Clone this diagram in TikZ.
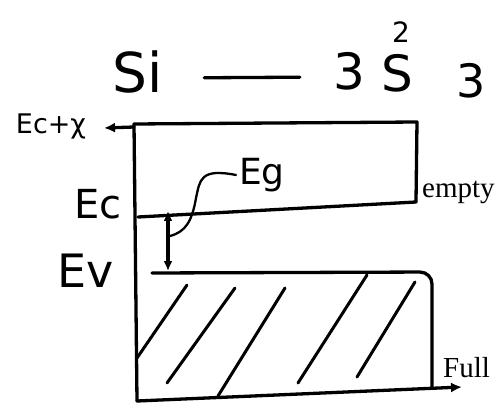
\documentclass[tikz,border=0pt]{standalone}
\usepackage{fontspec}
\newfontfamily\handfont{DejaVu Sans}
\newfontfamily\typedfont{Liberation Serif}
\usetikzlibrary{arrows.meta, positioning}

\begin{document}
\begin{tikzpicture}[
			x=1pt, y=-1pt,
			hand/.style={line width=3.3pt, line cap=round, line join=round},
			hatch/.style={line width=3pt, line cap=round},
			arrow/.style={hand, -{Latex[length=11pt, width=10pt]}},
			twoway/.style={hand, {Latex[length=10pt, width=9pt]}-{Latex[length=10pt, width=9pt]}},
			handtext/.style={inner sep=0pt, font=\handfont\fontsize{#1}{#1}\selectfont},
			typed/.style={inner sep=0pt, anchor=base west, font=\typedfont\fontsize{29}{29}\selectfont}
			]
			\useasboundingbox (0,0) rectangle (499,404);
			
			% title
			\node[handtext=55] (si) at (138,72) {Si};
			\node[handtext=50] (three) at (349,71) {3};
			\node[handtext=50] (orbital) at (397,73) {S};
			\node[handtext=28] (power) at (401,32) {2};
			\node[handtext=46] (valence) at (471,81) {3};
			\draw[hand, shorten <=41pt, shorten >=33pt] ([yshift=-6pt]si.east) -- ([yshift=-6pt]three.west);
			
			% band corners
			\coordinate (axistop) at (134,124);
			\coordinate (origin) at (137,401);
			\coordinate (cbtopright) at (417,122);
			\coordinate (cbright) at (416,202);
			\coordinate (ecleft) at (138,217);
			\coordinate (evleft) at (152,273);
			\coordinate (vbcorner) at (432,272);
			\coordinate (vbright) at (432,387);
			\coordinate (fullend) at (462,387);
			\coordinate (vacuum) at (104,128);
			
			% labels
			\node[handtext=27] (ecchi) at (51,126) {Ec+χ};
			\node[handtext=40] (ec) at (98,204) {Ec};
			\node[handtext=46] (ev) at (86,271) {Ev};
			\node[handtext=36] (eg) at (262,175) {Eg};
			\node[typed] (empty) at (422,197) {empty};
			\node[typed] (full) at (443,377) {Full};
			
			% conduction band
			\draw[hand] (axistop) -- (cbtopright) -- (cbright);
			\draw[hand] (ecleft) -- (cbright);
			\draw[arrow] ([yshift=-3pt]axistop) -- (vacuum);
			
			% valence band
			\draw[hand] (axistop) -- (origin);
			\draw[hand, rounded corners=12pt] (evleft) -- (vbcorner) -- (vbright);
			\draw[arrow] (origin) -- (fullend);
			
			% gap
			\draw[twoway] (168,211) -- (168,271);
			\draw[hand, line width=2.3pt] ([xshift=-3pt]eg.west) .. controls (200,168) and (200,180) .. (196,198)
				.. controls (192,222) and (185,232) .. (170,236);
			
			% filled states
			\draw[hatch] (187,285) -- (137,358);
			\draw[hatch] (235,288) -- (167,383);
			\draw[hatch] (285,288) -- (218,396);
			\draw[hatch] (367,275) -- (298,383);
			\draw[hatch] (415,282) -- (357,377);
			
		\end{tikzpicture}
\end{document}
